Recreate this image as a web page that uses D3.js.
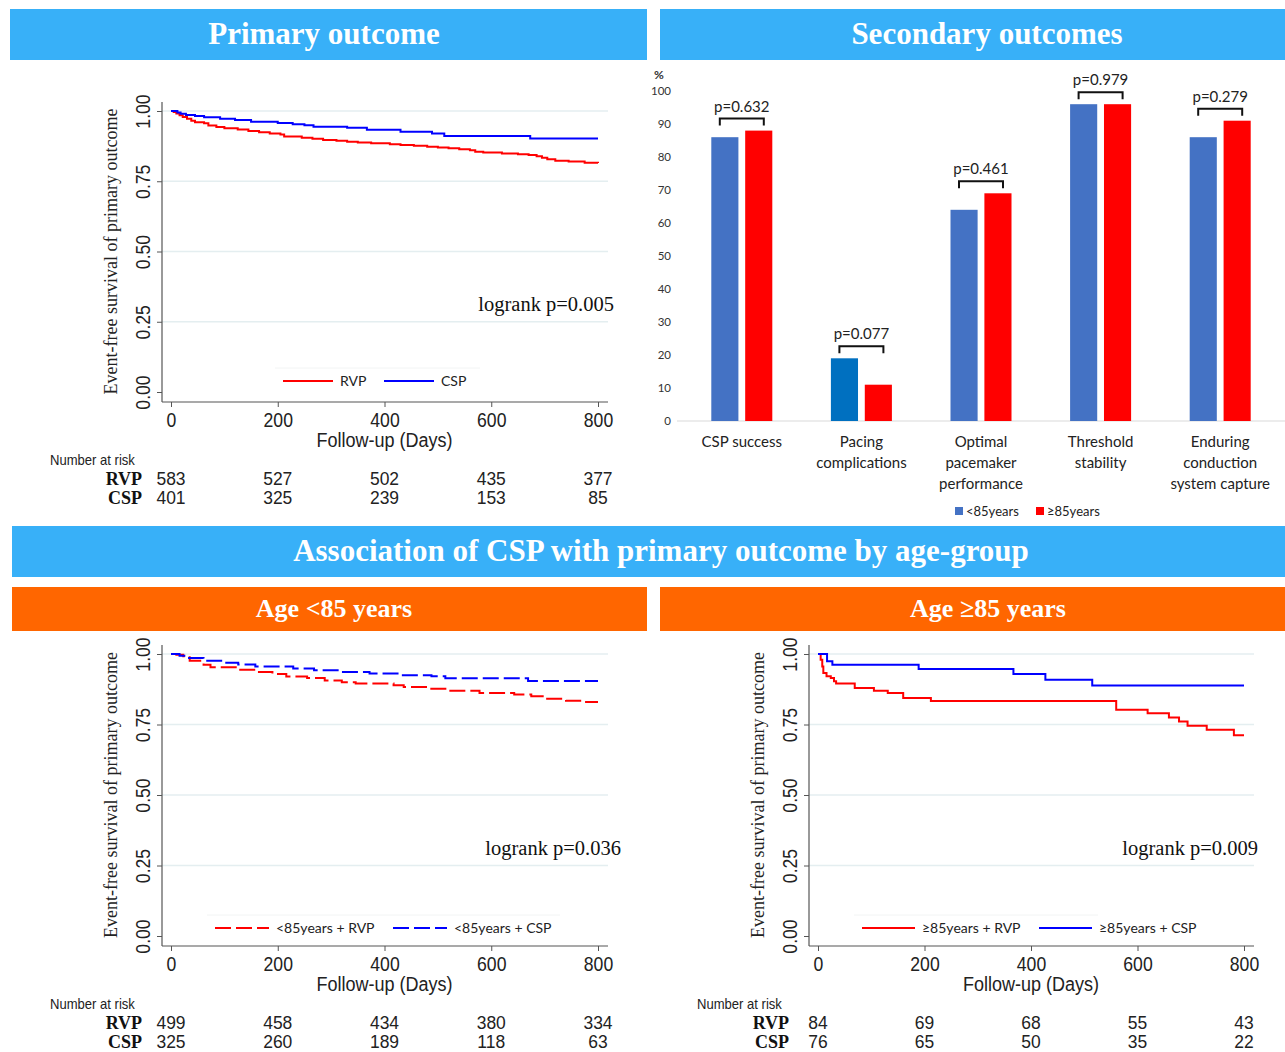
<!DOCTYPE html>
<html><head><meta charset="utf-8">
<script src="https://cdn.jsdelivr.net/npm/d3@7"></script>
<style>body{margin:0;background:#fff}svg{display:block}</style>
</head><body>
<svg id="c" width="1285" height="1052"></svg>
<script>
// ---------------- DATA ----------------
const yTickValues = [0, 0.25, 0.5, 0.75, 1];
const xTickValues = [0, 200, 400, 600, 800];

// Primary outcome KM (all patients)
const primaryRVP = [[0,1],[5,0.996],[10,0.991],[16,0.985],[22,0.979],[30,0.972],[38,0.965],[45,0.96],[62,0.956],[70,0.948],[85,0.943],[100,0.939],[125,0.934],[145,0.929],[165,0.924],[185,0.92],[205,0.916],[212,0.909],[245,0.905],[265,0.901],[285,0.897],[310,0.894],[330,0.891],[350,0.888],[375,0.885],[410,0.882],[430,0.879],[455,0.876],[480,0.873],[500,0.87],[520,0.867],[540,0.864],[560,0.86],[570,0.855],[585,0.852],[620,0.849],[650,0.846],[670,0.843],[685,0.839],[695,0.834],[705,0.828],[720,0.823],[745,0.82],[775,0.816],[800,0.815]];
const primaryCSP = [[0,1],[12,0.995],[18,0.99],[28,0.986],[45,0.982],[62,0.978],[92,0.972],[120,0.968],[150,0.962],[200,0.957],[228,0.953],[250,0.949],[267,0.944],[330,0.94],[367,0.933],[430,0.926],[489,0.92],[512,0.911],[673,0.902],[800,0.902]];
const primaryRiskRVP = [583, 527, 502, 435, 377];
const primaryRiskCSP = [401, 325, 239, 153, 85];

// Age < 85
const youngRVP = [[0,1],[10,0.997],[23,0.992],[35,0.976],[61,0.962],[74,0.953],[126,0.944],[158,0.936],[190,0.929],[216,0.92],[255,0.915],[288,0.906],[320,0.9],[346,0.895],[417,0.889],[436,0.883],[481,0.877],[514,0.87],[578,0.862],[643,0.856],[675,0.85],[701,0.841],[740,0.834],[772,0.83],[800,0.83]];
const youngCSP = [[0,1],[16,0.994],[29,0.986],[61,0.976],[94,0.969],[126,0.963],[158,0.956],[229,0.949],[268,0.942],[320,0.936],[372,0.931],[430,0.925],[488,0.921],[514,0.914],[669,0.904],[800,0.904]];
const youngRiskRVP = [499, 458, 434, 380, 334];
const youngRiskCSP = [325, 260, 189, 118, 63];

// Age >= 85
const oldRVP = [[0,1],[3,1],[5,0.98],[8,0.956],[10,0.933],[16,0.921],[24,0.915],[30,0.903],[34,0.895],[69,0.879],[105,0.87],[131,0.862],[160,0.844],[212,0.833],[560,0.802],[619,0.79],[659,0.775],[678,0.761],[694,0.746],[730,0.731],[781,0.712],[800,0.712]];
const oldCSP = [[0,1],[17,0.974],[27,0.962],[189,0.947],[367,0.929],[427,0.909],[515,0.888],[800,0.888]];
const oldRiskRVP = [84, 69, 68, 55, 43];
const oldRiskCSP = [76, 65, 50, 35, 22];

// Secondary outcomes
const secCategories = [["CSP success"],["Pacing","complications"],["Optimal","pacemaker","performance"],["Threshold","stability"],["Enduring","conduction","system capture"]];
const secUnder85 = [86, 19, 64, 96, 86];
const secOver85 = [88, 11, 69, 96, 91];
const secPValues = ["p=0.632","p=0.077","p=0.461","p=0.979","p=0.279"];
const secYTicks = [0,10,20,30,40,50,60,70,80,90,100];
const secGroups = ["<85years","≥85years"];

// ---------------- DRAW ----------------
const svg = d3.select("#c");
const SERIF = "'Liberation Serif','Times New Roman',serif";
const NARROW = "'Liberation Sans',Arial,sans-serif";
const CAL = "Lato,'Open Sans',sans-serif";

// condense a text selection horizontally (narrow sans look)
function condense(sel, k) {
  sel.each(function () {
    const L = this.getComputedTextLength();
    if (L > 0) d3.select(this).attr("textLength", L * k).attr("lengthAdjust", "spacingAndGlyphs");
  });
}

function header(x0, x1, y0, y1, fill, text, size, cx) {
  svg.append("rect").attr("x", x0).attr("y", y0).attr("width", x1 - x0).attr("height", y1 - y0).attr("fill", fill);
  svg.append("text").attr("x", cx).attr("y", (y0 + y1) / 2 - 1).attr("dy", "0.34em")
    .attr("text-anchor", "middle").attr("fill", "#fff").attr("font-family", SERIF)
    .attr("font-weight", "bold").attr("font-size", size).text(text);
}
header(10, 647, 9, 60, "#38B0F8", "Primary outcome", 31, 324);
header(660, 1285, 9, 60, "#38B0F8", "Secondary outcomes", 31, 987);
header(12, 1285, 526, 577, "#38B0F8", "Association of CSP with primary outcome by age-group", 31, 661);
header(12, 647, 587, 631, "#FF6600", "Age <85 years", 26, 334);
header(660, 1285, 587, 631, "#FF6600", "Age ≥85 years", 26, 988);

function kmPanel(o) {
  const x = d3.scaleLinear().domain([0, 800]).range([o.x0, o.x1]);
  const y = d3.scaleLinear().domain([0, 1]).range([o.yb, o.yt]);
  const g = svg.append("g");
  const axisX = o.x0 - 9, gridEnd = o.x1 + 10, axisB = o.yb + 10;
  // gridlines
  g.selectAll("line.grid").data(yTickValues.filter(d => d > 0)).join("line")
    .attr("x1", axisX).attr("x2", gridEnd).attr("y1", d => y(d)).attr("y2", d => y(d))
    .attr("stroke", "#e4eef0").attr("stroke-width", 1.3);
  // legend background edge
  g.append("line").attr("x1", o.legX - 8).attr("x2", o.legEnd).attr("y1", o.legY - 13).attr("y2", o.legY - 13)
    .attr("stroke", "#f2f4f4").attr("stroke-width", 1);
  // y axis
  const ya = g.append("g").attr("transform", `translate(${axisX},0)`)
    .call(d3.axisLeft(y).tickValues(yTickValues).tickFormat(d3.format(".2f")).tickSize(5));
  ya.select(".domain").remove();
  ya.attr("font-family", NARROW).attr("font-size", 20).attr("color", "#555");
  ya.selectAll("text").attr("transform", "rotate(-90)").attr("x", 0).attr("y", -12).attr("dy", 0)
    .attr("text-anchor", "middle").attr("fill", "#222").call(condense, 0.88);
  g.append("line").attr("x1", axisX).attr("x2", axisX).attr("y1", o.yt - 9).attr("y2", axisB).attr("stroke", "#555").attr("stroke-width", 1.2);
  // x axis
  const xa = g.append("g").attr("transform", `translate(0,${axisB})`)
    .call(d3.axisBottom(x).tickValues(xTickValues).tickFormat(d3.format("d")).tickSize(5));
  xa.select(".domain").remove();
  xa.attr("font-family", NARROW).attr("font-size", 20).attr("color", "#555");
  xa.selectAll("text").attr("y", 25).attr("dy", 0).attr("fill", "#222").call(condense, 0.88);
  g.append("line").attr("x1", axisX).attr("x2", gridEnd).attr("y1", axisB).attr("y2", axisB).attr("stroke", "#555").attr("stroke-width", 1.2);
  // titles
  g.append("text").attr("transform", `translate(${axisX - 45},${(o.yt + o.yb) / 2}) rotate(-90)`)
    .attr("text-anchor", "middle").attr("font-family", SERIF).attr("font-size", 18).attr("fill", "#222")
    .text("Event-free survival of primary outcome");
  g.append("text").attr("x", (o.x0 + o.x1) / 2).attr("y", axisB + 45).attr("text-anchor", "middle")
    .attr("font-family", NARROW).attr("font-size", 20).attr("fill", "#222").text("Follow-up (Days)").call(condense, 0.9);
  // curves
  const line = d3.line().x(d => x(d[0])).y(d => y(d[1])).curve(d3.curveStepAfter);
  [[o.rvp, "#FF0000"], [o.csp, "#0000FF"]].forEach(([data, col]) => {
    g.append("path").datum(data).attr("d", line).attr("fill", "none").attr("stroke", col)
      .attr("stroke-width", 2).attr("stroke-dasharray", o.dash || null);
  });
  // legend
  const legItems = [[o.legNames[0], "#FF0000", o.legX], [o.legNames[1], "#0000FF", o.legX2]];
  legItems.forEach(([name, col, lx]) => {
    g.append("line").attr("x1", lx).attr("x2", lx + o.legLen).attr("y1", o.legY).attr("y2", o.legY)
      .attr("stroke", col).attr("stroke-width", 2).attr("stroke-dasharray", o.dash || null);
    g.append("text").attr("x", lx + o.legLen + 7).attr("y", o.legY).attr("dy", "0.35em")
      .attr("font-family", CAL).attr("font-size", 14).attr("fill", "#222").text(name);
  });
  // logrank
  g.append("text").attr("x", o.logX).attr("y", y(0.25) - 11).attr("text-anchor", "end")
    .attr("font-family", SERIF).attr("font-size", 20.5).attr("fill", "#111").text(o.logrank);
  // number at risk
  g.append("text").attr("x", axisX - 112).attr("y", axisB + 63).attr("font-family", NARROW)
    .attr("font-size", 14.5).attr("fill", "#222").text("Number at risk").call(condense, 0.9);
  [["RVP", o.riskRVP, 83], ["CSP", o.riskCSP, 102]].forEach(([lab, vals, dy]) => {
    g.append("text").attr("x", axisX - 20).attr("y", axisB + dy).attr("text-anchor", "end")
      .attr("font-family", SERIF).attr("font-weight", "bold").attr("font-size", 18).attr("fill", "#111").text(lab);
    g.selectAll(null).data(vals).join("text").attr("x", (d, i) => x(xTickValues[i])).attr("y", axisB + dy)
      .attr("text-anchor", "middle").attr("font-family", NARROW).attr("font-size", 18).attr("fill", "#222")
      .text(d => d).call(condense, 0.97);
  });
}

kmPanel({x0: 171, x1: 598, yb: 392, yt: 111, rvp: primaryRVP, csp: primaryCSP,
  legNames: ["RVP", "CSP"], legX: 283, legX2: 384, legLen: 50, legEnd: 480, legY: 381,
  logX: 614, logrank: "logrank p=0.005", riskRVP: primaryRiskRVP, riskCSP: primaryRiskCSP});
kmPanel({x0: 171, x1: 598, yb: 936, yt: 654, rvp: youngRVP, csp: youngCSP, dash: "16,5",
  legNames: ["<85years + RVP", "<85years + CSP"], legX: 215, legX2: 393, legLen: 54, legEnd: 560, legY: 928,
  logX: 621, logrank: "logrank p=0.036", riskRVP: youngRiskRVP, riskCSP: youngRiskCSP});
kmPanel({x0: 818, x1: 1244, yb: 936, yt: 654, rvp: oldRVP, csp: oldCSP,
  legNames: ["≥85years + RVP", "≥85years + CSP"], legX: 862, legX2: 1039, legLen: 53, legEnd: 1098, legY: 928,
  logX: 1258, logrank: "logrank p=0.009", riskRVP: oldRiskRVP, riskCSP: oldRiskCSP});

// ---------------- Secondary bar chart ----------------
(function () {
  const g = svg.append("g");
  const catKeys = secCategories.map(d => d.join(" "));
  const x0 = d3.scaleBand().domain(catKeys).range([682, 1280]);
  const x1 = d3.scaleBand().domain(secGroups).range([-30.5, 30.5]).paddingInner(0.2);
  const y = d3.scaleLinear().domain([0, 100]).range([421, 91]);
  g.append("line").attr("x1", 677).attr("x2", 1285).attr("y1", y(0)).attr("y2", y(0)).attr("stroke", "#d9d9d9");
  const ya = g.append("g").attr("transform", "translate(676,0)")
    .call(d3.axisLeft(y).tickValues(secYTicks).tickSize(0).tickPadding(5));
  ya.select(".domain").remove();
  ya.attr("font-family", CAL).attr("font-size", 11.5).attr("color", "#333");
  g.append("text").attr("x", 654).attr("y", 79).attr("font-family", CAL).attr("font-weight", "bold")
    .attr("font-size", 12).attr("fill", "#333").text("%");
  const cols = ["#4472C4", "#FF0000"];
  const series = [secUnder85, secOver85];
  catKeys.forEach((k, i) => {
    const c = x0(k) + x0.bandwidth() / 2;
    series.forEach((s, j) => {
      let col = cols[j];
      if (j === 0 && i === 1) col = "#0070C0";
      g.append("rect").attr("x", c + x1(secGroups[j])).attr("width", x1.bandwidth())
        .attr("y", y(s[i])).attr("height", y(0) - y(s[i])).attr("fill", col);
    });
    const top = y(Math.max(secUnder85[i], secOver85[i]));
    const by = top - 12;
    g.append("path").attr("d", `M${c - 22},${by + 7}V${by}H${c + 22}V${by + 7}`)
      .attr("fill", "none").attr("stroke", "#111").attr("stroke-width", 2);
    g.append("text").attr("x", c).attr("y", by - 7).attr("text-anchor", "middle")
      .attr("font-family", CAL).attr("font-size", 15).attr("fill", "#222").text(secPValues[i]);
    secCategories[i].forEach((ln, li) => {
      g.append("text").attr("x", c).attr("y", 447 + li * 21).attr("text-anchor", "middle")
        .attr("font-family", CAL).attr("font-size", 15).attr("fill", "#222").text(ln);
    });
  });
  // legend
  const legX = [955, 1036];
  secGroups.forEach((name, j) => {
    g.append("rect").attr("x", legX[j]).attr("y", 507).attr("width", 8).attr("height", 8).attr("fill", cols[j]);
    g.append("text").attr("x", legX[j] + 11).attr("y", 511).attr("dy", "0.35em")
      .attr("font-family", CAL).attr("font-size", 13).attr("fill", "#222").text(name);
  });
})();
</script>
</body></html>
